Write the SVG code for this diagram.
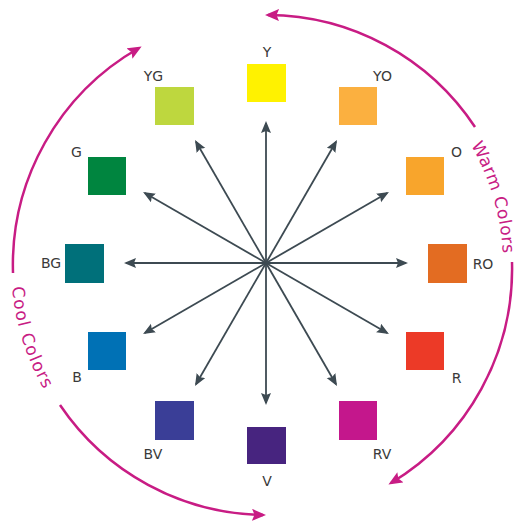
<svg xmlns="http://www.w3.org/2000/svg" xmlns:xlink="http://www.w3.org/1999/xlink" width="520" height="521" viewBox="0 0 520 521">
<style>
.lbl{font-family:"DejaVu Sans","Liberation Sans",sans-serif;font-size:14px;fill:#3a3a3a;text-anchor:middle}
.spoke{stroke:#3d4a52;stroke-width:1.8;fill:none;marker-end:url(#ga)}
.arc{stroke:#c81c84;stroke-width:2.5;fill:none;marker-end:url(#ma)}
.big{font-family:"DejaVu Sans","Liberation Sans",sans-serif;font-size:17px;fill:#c81c84}
</style>
<defs>
<marker id="ga" markerUnits="userSpaceOnUse" markerWidth="13" markerHeight="11" refX="10" refY="5" orient="auto">
<path d="M0,0 L12,5 L0,10 L2,5 z" fill="#3d4a52"/>
</marker>
<marker id="ma" markerUnits="userSpaceOnUse" markerWidth="15" markerHeight="13" refX="11" refY="6" orient="auto">
<path d="M0,0 L14,6 L0,12 L2.5,6 z" fill="#c81c84"/>
</marker>
<path id="warmPath" d="M 470.8 145 A 240 240 0 0 1 499.4 306.7"/>
<path id="coolPath" d="M 12 287 A 252 252 0 0 0 70 427"/>
</defs>
<rect width="520" height="521" fill="#ffffff"/>

<g id="connectors">
<line class="spoke" x1="266" y1="263" x2="406" y2="263"/>
<line class="spoke" x1="266" y1="263" x2="387.2" y2="333"/>
<line class="spoke" x1="266" y1="263" x2="336" y2="384.2"/>
<line class="spoke" x1="266" y1="263" x2="266" y2="403"/>
<line class="spoke" x1="266" y1="263" x2="196" y2="384.2"/>
<line class="spoke" x1="266" y1="263" x2="144.8" y2="333"/>
<line class="spoke" x1="266" y1="263" x2="126" y2="263"/>
<line class="spoke" x1="266" y1="263" x2="144.8" y2="193"/>
<line class="spoke" x1="266" y1="263" x2="196" y2="141.8"/>
<line class="spoke" x1="266" y1="263" x2="266" y2="123"/>
<line class="spoke" x1="266" y1="263" x2="336" y2="141.8"/>
<line class="spoke" x1="266" y1="263" x2="387.2" y2="193"/>
</g>

<g id="cycle">
<path class="arc" d="M 475 127 A 250 250 0 0 0 268 15"/>
<path class="arc" d="M 512 262 A 250 250 0 0 1 391 483"/>
<path class="arc" d="M 13 273 A 250 250 0 0 1 139 48"/>
<path class="arc" d="M 60 405 A 250 250 0 0 0 263 515"/>
<text class="big"><textPath xlink:href="#warmPath" href="#warmPath" textLength="114" lengthAdjust="spacing">Warm Colors</textPath></text>
<text class="big"><textPath xlink:href="#coolPath" href="#coolPath" textLength="108" lengthAdjust="spacing">Cool Colors</textPath></text>
</g>

<g id="node-Y"><rect x="247" y="64" width="39" height="38" fill="#fff200"/><text class="lbl" x="267" y="57">Y</text></g>
<g id="node-YG"><rect x="155" y="87" width="39" height="38" fill="#bed73e"/><text class="lbl" x="153.5" y="81">YG</text></g>
<g id="node-YO"><rect x="339" y="87" width="38" height="38" fill="#fbb040"/><text class="lbl" x="382.5" y="81">YO</text></g>
<g id="node-G"><rect x="88" y="157" width="38" height="38" fill="#00853f"/><text class="lbl" x="76.5" y="157">G</text></g>
<g id="node-O"><rect x="406" y="157" width="38" height="38" fill="#f8a52c"/><text class="lbl" x="456.5" y="157">O</text></g>
<g id="node-BG"><rect x="65" y="244" width="39" height="39" fill="#00707a"/><text class="lbl" x="51" y="268">BG</text></g>
<g id="node-RO"><rect x="428" y="244" width="39" height="39" fill="#e36c22"/><text class="lbl" x="483" y="269">RO</text></g>
<g id="node-B"><rect x="88" y="332" width="38" height="38" fill="#0071b5"/><text class="lbl" x="77" y="382">B</text></g>
<g id="node-R"><rect x="406" y="332" width="38" height="38" fill="#ec3a27"/><text class="lbl" x="456.5" y="383">R</text></g>
<g id="node-BV"><rect x="155" y="401" width="39" height="39" fill="#3a3e97"/><text class="lbl" x="153" y="459">BV</text></g>
<g id="node-RV"><rect x="339" y="401" width="38" height="39" fill="#c4178c"/><text class="lbl" x="382" y="459">RV</text></g>
<g id="node-V"><rect x="247" y="427" width="39" height="37" fill="#47247f"/><text class="lbl" x="267" y="486">V</text></g>
</svg>
